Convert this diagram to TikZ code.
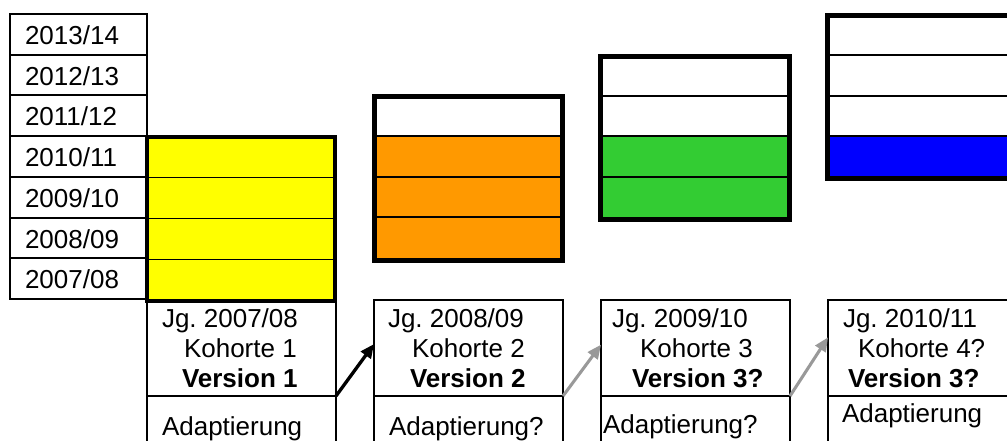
\documentclass[tikz,border=0pt]{standalone}
\usepackage{fontspec}
\setmainfont{Liberation Sans}
\usetikzlibrary{arrows.meta}
\definecolor{yel}{HTML}{FFFF00}
\definecolor{ora}{HTML}{FF9900}
\definecolor{grn}{HTML}{33CC33}
\definecolor{blu}{HTML}{0000FF}
\definecolor{arrgray}{HTML}{999999}
\frenchspacing
\begin{document}
\begin{tikzpicture}[x=0.75pt,y=-0.75pt,
  txt/.style={anchor=base west, inner sep=0, outer sep=0, font=\fontsize{19.5}{23}\selectfont},
  btxt/.style={txt, font=\fontsize{19.5}{23}\selectfont\bfseries},
  yearcell/.style={draw, line width=1.5pt, inner sep=0, outer sep=0, anchor=north west, minimum width=102.75pt, minimum height=30.53pt},
  kbox/.style={draw, line width=1.5pt, inner sep=0, outer sep=0, anchor=north west, minimum width=141.75pt, minimum height=72pt},
  abox/.style={draw, line width=1.5pt, inner sep=0, outer sep=0, anchor=north west, minimum width=141.75pt, minimum height=60pt},
  stackborder/.style={draw, line width=3.75pt},
  rowline/.style={line width=1.5pt},
  blackarrow/.style={line width=2.5pt, -{Triangle[length=10.5pt,width=9pt]}},
  grayarrow/.style={draw=arrgray, line width=2.3pt, -{Triangle[length=10.5pt,width=9pt]}, color=arrgray}
]
\useasboundingbox (0,0) rectangle (1007,440);
\clip (0,0) rectangle (1007,440);

% year column
\foreach \yr [count=\i from 0] in {2013/14,2012/13,2011/12,2010/11,2009/10,2008/09,2007/08} {
  \node[yearcell] (yc\i) at (10,{14+\i*40.71}) {};
  \node[txt] (yl\i) at (25,{14+\i*40.71+30.5}) {\yr};
}

% yellow stack
\fill[yel] (147,137) rectangle (335,301);
\foreach \yy in {177,218,259} \draw[line width=0.75pt] (147,\yy) -- (335,\yy);
\draw[draw, line width=3pt] (147,137) rectangle (335,301);

% orange stack
\fill[ora] (374,136) rectangle (562,260.5);
\foreach \yy in {136,177,217} \draw[rowline] (374,\yy) -- (562,\yy);
\draw[stackborder] (374,96.5) rectangle (562,260.5);

% green stack
\fill[grn] (600.5,136) rectangle (789.5,219.5);
\foreach \yy in {96,136,177} \draw[rowline] (600.5,\yy) -- (789.5,\yy);
\draw[stackborder] (600.5,56.5) rectangle (789.5,219.5);

% blue stack
\fill[blu] (827.5,136) rectangle (1030,178.5);
\foreach \yy in {55,96,136} \draw[rowline] (827.5,\yy) -- (1030,\yy);
\draw[stackborder] (827.5,15.5) rectangle (1030,178.5);

% bottom boxes
\node[kbox, minimum height=71.25pt] (k1) at (147,301) {};
\node[abox] (a1) at (147,396) {};
\node[kbox] (k2) at (374,300) {};
\node[abox] (a2) at (374,396) {};
\node[kbox] (k3) at (601,300) {};
\node[abox] (a3) at (601,396) {};
\node[kbox, minimum width=160pt] (k4) at (828,300) {};
\node[abox, minimum width=160pt] (a4) at (828,396) {};

% texts
\node[txt] (j1) at (162,327) {Jg. 2007/08};
\node[txt] (c1) at (184,357) {Kohorte 1};
\node[btxt] (v1) at (182,387) {Version 1};
\node[txt] (d1) at (162,435) {Adaptierung};

\node[txt] (j2) at (388,327) {Jg. 2008/09};
\node[txt] (c2) at (412,357) {Kohorte 2};
\node[btxt] (v2) at (410,387) {Version 2};
\node[txt] (d2) at (389,435) {Adaptierung?};

\node[txt] (j3) at (612,327) {Jg. 2009/10};
\node[txt] (c3) at (640,357) {Kohorte 3};
\node[btxt] (v3) at (632,387) {Version 3?};
\node[txt] (d3) at (603,433) {Adaptierung?};

\node[txt] (j4) at (843,327) {Jg. 2010/11};
\node[txt] (c4) at (858,357) {Kohorte 4?};
\node[btxt] (v4) at (848,387) {Version 3?};
\node[txt] (d4) at (842,422) {Adaptierung};

% arrows
\draw[blackarrow] (k1.south east) -- ([yshift=3pt]k2.west);
\draw[grayarrow] (k2.south east) -- ([yshift=2.5pt]k3.west);
\draw[grayarrow] (k3.south east) -- ([yshift=8pt]k4.west);
\end{tikzpicture}
\end{document}
